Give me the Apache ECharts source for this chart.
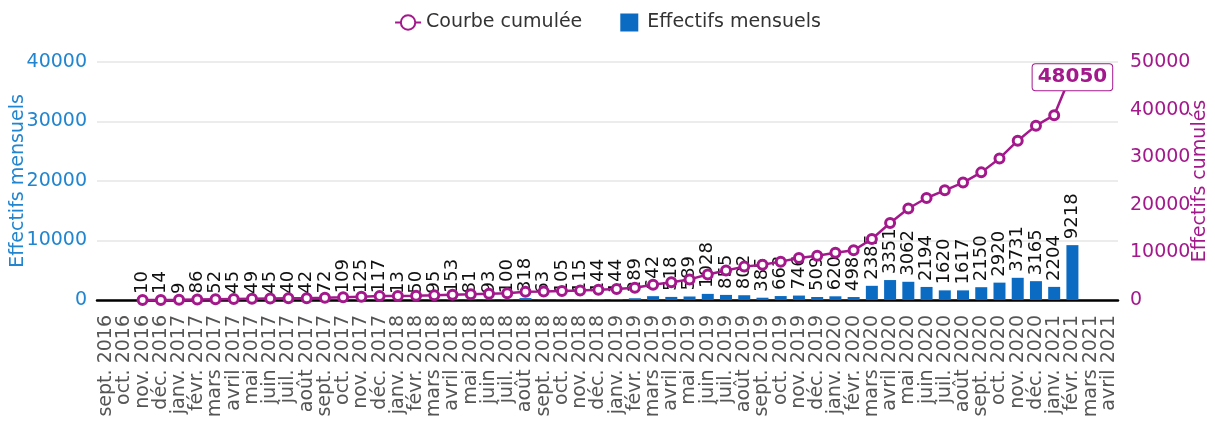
<!DOCTYPE html>
<html><head><meta charset="utf-8">
<script src="https://cdn.jsdelivr.net/npm/echarts@6/dist/echarts.min.js"></script>
<style>html,body{margin:0;padding:0;background:#fff}#c{width:1215px;height:425px}</style>
</head><body><div id="c"></div>
<script>
const categories = ["sept. 2016","oct. 2016","nov. 2016","déc. 2016",
"janv. 2017","févr. 2017","mars 2017","avril 2017","mai 2017","juin 2017","juil. 2017","août 2017","sept. 2017","oct. 2017","nov. 2017","déc. 2017",
"janv. 2018","févr. 2018","mars 2018","avril 2018","mai 2018","juin 2018","juil. 2018","août 2018","sept. 2018","oct. 2018","nov. 2018","déc. 2018",
"janv. 2019","févr. 2019","mars 2019","avril 2019","mai 2019","juin 2019","juil. 2019","août 2019","sept. 2019","oct. 2019","nov. 2019","déc. 2019",
"janv. 2020","févr. 2020","mars 2020","avril 2020","mai 2020","juin 2020","juil. 2020","août 2020","sept. 2020","oct. 2020","nov. 2020","déc. 2020",
"janv. 2021","févr. 2021","mars 2021","avril 2021"];
const monthly = [null,null,10,14,
9,86,52,45,49,45,40,42,72,109,125,117,
13,50,95,153,81,93,100,318,63,105,115,144,
144,289,642,518,589,1028,855,802,385,663,746,509,
620,498,2385,3351,3062,2194,1620,1617,2150,2920,3731,3165,
2204,9218,null,null];
const cumulative = [null,null,10,24,
33,119,171,216,265,310,350,392,464,573,698,815,
828,878,973,1126,1207,1300,1400,1718,1781,1886,2001,2145,
2289,2578,3220,3738,4327,5355,6210,7012,7397,8060,8806,9315,
9935,10433,12818,16169,19231,21425,23045,24662,26812,29732,33463,36628,
38832,48050,null,null];
const leftTicks = {min:0,max:40000,interval:10000};
const rightTicks = {min:0,max:50000,interval:10000};

const FONT = 'DejaVu Sans';
const BLUE = '#0b6bc2', BLUE_TXT = '#2185d0', PURPLE = '#a3198c';
const lastIdx = cumulative.reduce((a,v,i)=>v!=null?i:a,-1);
const lineData = cumulative.map((v,i)=> i===lastIdx ? {value:v, symbolSize:0, label:{show:true}} : v);
const plain = v => String(v);

const chart = echarts.init(document.getElementById('c'));
chart.setOption({
  animation:false,
  textStyle:{fontFamily:FONT},
  legend:{top:8,left:'center',itemGap:38,itemWidth:26,itemHeight:18,
    textStyle:{fontFamily:FONT,fontSize:19,color:'#333'},
    data:[{name:'Courbe cumulée'},{name:'Effectifs mensuels',icon:'path://M0,0h10v10h-10z'}]},
  grid:{left:97,right:97,top:62,bottom:125,containLabel:false,outerBoundsMode:'none'},
  xAxis:{type:'category',data:categories,
    axisLine:{lineStyle:{color:'#000',width:2.5}},axisTick:{show:false},
    axisLabel:{rotate:90,interval:0,fontSize:19,color:'#555',fontFamily:FONT,margin:15}},
  yAxis:[
    {type:'value',min:leftTicks.min,max:leftTicks.max,interval:leftTicks.interval,
     name:'Effectifs mensuels',nameLocation:'middle',nameGap:69,nameMoveOverlap:false,
     nameTextStyle:{color:BLUE_TXT,fontSize:19,fontFamily:FONT},
     axisLabel:{color:BLUE_TXT,fontSize:19,fontFamily:FONT,margin:10,formatter:plain},
     axisLine:{show:false},axisTick:{show:false},
     splitLine:{lineStyle:{color:'#e6e6e6',width:1.5}}},
    {type:'value',min:rightTicks.min,max:rightTicks.max,interval:rightTicks.interval,position:'right',
     name:'Effectifs cumulés',nameLocation:'middle',nameGap:73,nameMoveOverlap:false,
     nameTextStyle:{color:PURPLE,fontSize:19,fontFamily:FONT},
     axisLabel:{color:PURPLE,fontSize:19,fontFamily:FONT,margin:12,formatter:plain},
     axisLine:{show:false},axisTick:{show:false},splitLine:{show:false}}
  ],
  series:[
    {name:'Effectifs mensuels',type:'bar',yAxisIndex:0,data:monthly,barWidth:12,
     itemStyle:{color:BLUE},z:2,
     label:{show:true,position:'top',rotate:90,align:'left',verticalAlign:'middle',distance:6,
       fontSize:18,color:'#111',fontFamily:FONT}},
    {name:'Courbe cumulée',type:'line',yAxisIndex:1,data:lineData,z:3,
     symbol:'circle',symbolSize:9,showAllSymbol:true,
     lineStyle:{color:PURPLE,width:2.5},
     itemStyle:{color:'#fff',borderColor:PURPLE,borderWidth:3},
     label:{show:false,position:'inside',offset:[0,6],fontSize:20,fontWeight:'bold',color:PURPLE,
       backgroundColor:'#fff',borderColor:PURPLE,borderWidth:1,borderRadius:3,padding:[3,5],fontFamily:FONT}}
  ]
});
</script></body></html>
